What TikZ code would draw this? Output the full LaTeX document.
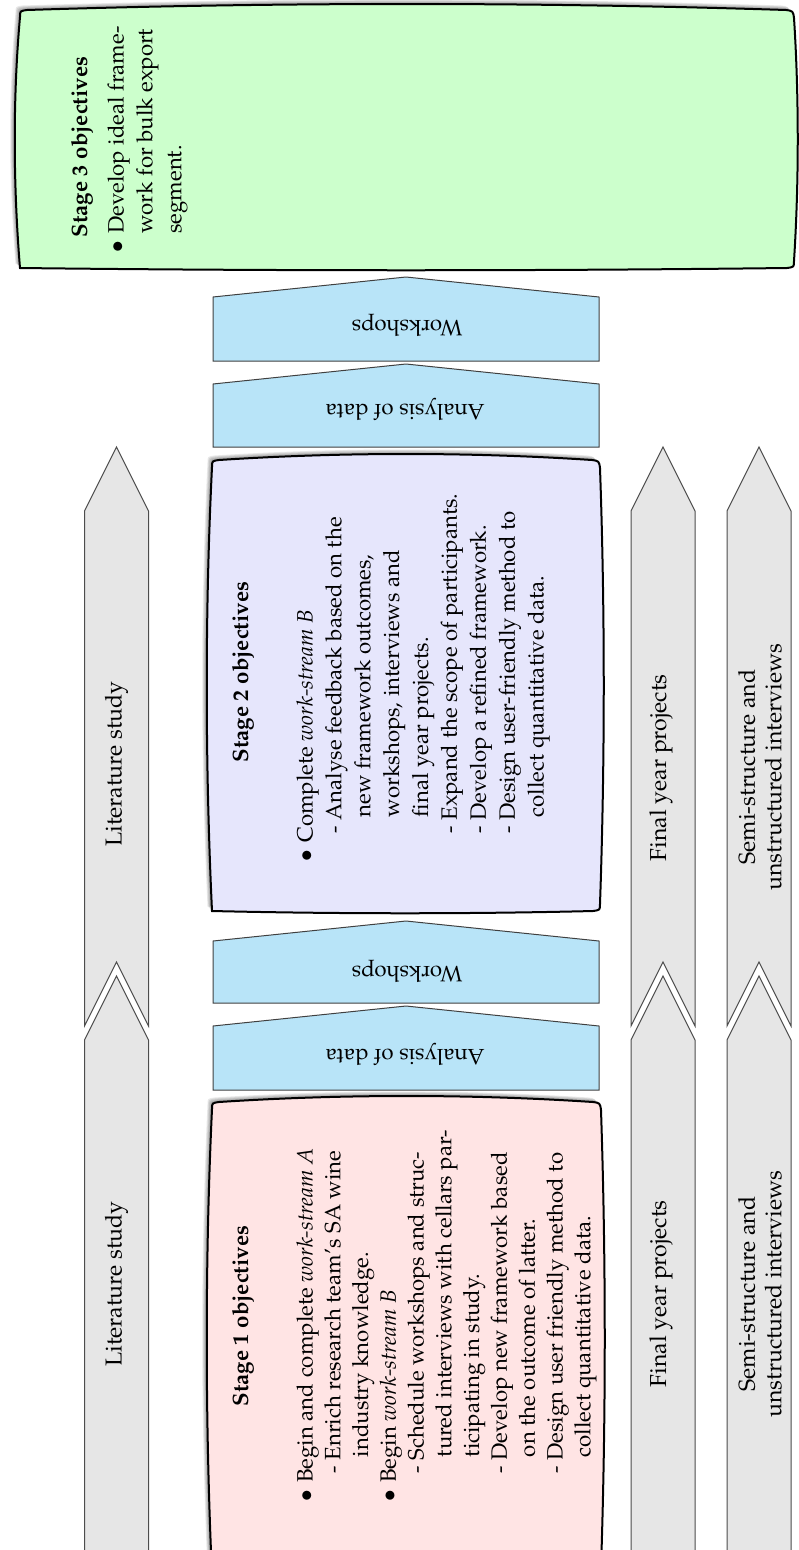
\documentclass[tikz,border=0pt]{standalone}
\usepackage[T1]{fontenc}
\usepackage{mathpazo}

\definecolor{stagegreen}{RGB}{204,255,204}
\definecolor{stagelav}{RGB}{230,230,252}
\definecolor{stagepink}{RGB}{255,228,228}
\definecolor{actblue}{RGB}{184,228,248}
\definecolor{trackgray}{RGB}{230,230,230}

% list lines: bullet line, dash line, continuation lines
\newcommand\bl[1]{\makebox[8.5pt][l]{$\bullet$}#1}
\newcommand\dl[1]{\hspace*{12.5pt}\makebox[6pt][l]{-}#1}
\newcommand\cl[1]{\hspace*{20pt}#1}
\newcommand\cb[1]{\hspace*{8.5pt}#1}

% soft-edged stage panel: x1, y1, x2, y2 (y grows downwards)
\newcommand\pillow[5][]{%
  \path[#1] ({#2},{#5})
   .. controls ({#2-7},{#5-(#5-#3)/3}) and ({#2-7},{#3+(#5-#3)/3}) .. ({#2},{#3+7})
   .. controls ({#2},{#3+1}) .. ({#2+7},{#3})
   .. controls ({#2+(#4-#2)/3},{#3-8}) and ({#4-(#4-#2)/3},{#3-8}) .. ({#4-8},{#3})
   .. controls ({#4-1},{#3+1}) .. ({#4},{#3+8})
   .. controls ({#4+5},{#3+(#5-#3)/3}) and ({#4+5},{#5-(#5-#3)/3}) .. ({#4},{#5-7})
   .. controls ({#4},{#5-1}) .. ({#4-7},{#5})
   .. controls ({#4-(#4-#2)/3},{#5+3}) and ({#2+(#4-#2)/3},{#5+3}) .. ({#2},{#5})
   -- cycle;}
\newcommand\stagepanel[5]{%
  \foreach \k in {1,...,5}{\pillow[fill=black,opacity=0.09,shift={({-0.9*\k},{-0.9*\k})}]{#2}{#3}{#4}{#5}}
  \pillow[fill=#1,draw=black,line width=0.9pt]{#2}{#3}{#4}{#5}}

\tikzset{
  track/.style={fill=trackgray,draw=black!70,line width=0.45pt,line join=miter},
  act/.style={fill=actblue,draw=black!75,line width=0.45pt,line join=miter},
  lbl/.style={rotate=90,inner sep=0pt,align=center,font=\fontsize{10.4}{12}\selectfont},
  actlbl/.style={rotate=180,inner sep=0pt,font=\fontsize{10}{12.6}\selectfont},
  stagetitle/.style={rotate=90,inner sep=0pt,font=\fontsize{10}{12.6}\selectfont\bfseries},
  stagelist/.style={rotate=90,inner sep=0pt,anchor=north west,align=left,
    font=\fontsize{10}{#1}\selectfont},
}

\begin{document}
\begin{tikzpicture}[x=0.45pt,y=-0.45pt]
\useasboundingbox (0,0) rectangle (799,1550);

% ---- stage panels ----
\stagepanel{stagegreen}{20}{10}{794}{268}
\stagepanel{stagelav}{212}{460}{600}{911}
\stagepanel{stagepink}{212}{1102}{601}{1575}

% ---- activity blocks ----
\path[act] (213,297) -- (406,277) -- (599,297) -- (599,361) -- (213,361) -- cycle;
\path[act] (213,384) -- (406,364) -- (599,384) -- (599,447) -- (213,447) -- cycle;
\path[act] (213,941) -- (406,921) -- (599,941) -- (599,1003) -- (213,1003) -- cycle;
\path[act] (213,1026) -- (406,1006) -- (599,1026) -- (599,1090) -- (213,1090) -- cycle;

% ---- side tracks ----
\foreach \L/\C/\R in {84.5/116.5/148.5, 631/663/695, 727/759/791}{
  \path[track] (\L,511) -- (\C,447) -- (\R,511) -- (\R,1026) -- (\C,962) -- (\L,1026) -- cycle;
  \path[track] (\L,1040) -- (\C,976) -- (\R,1040) -- (\R,1580) -- (\L,1580) -- cycle;
}

% ---- track labels ----
\node[lbl] (litA) at (116.5,764) {Literature study};
\node[lbl] (litB) at (116.5,1284) {Literature study};
\node[lbl] (fypA) at (661,768) {Final year projects};
\node[lbl] (fypB) at (661,1294) {Final year projects};
\node[lbl] (intA) at (760,767) {Semi-structure and\\unstructured interviews};
\node[lbl] (intB) at (760,1294) {Semi-structure and\\unstructured interviews};

% ---- activity labels ----
\node[actlbl] (wsA) at (407,325) {Workshops};
\node[actlbl] (adA) at (405,409) {Analysis of data};
\node[actlbl] (wsB) at (407,971) {Workshops};
\node[actlbl] (adB) at (405,1054) {Analysis of data};

% ---- stage 3 ----
\node[stagetitle] (s3t) at (82,147) {Stage 3 objectives};
\node[stagelist=13] (s3l) at (107,253) {%
  \bl{Develop ideal frame-}\\
  \cb{work for bulk export}\\
  \cb{segment.}};

% ---- stage 2 ----
\node[stagetitle] (s2t) at (243,672) {Stage 2 objectives};
\node[stagelist=13] (s2l) at (296,862) {%
  \bl{Complete \emph{work-stream B}}\\
  \dl{Analyse feedback based on the}\\
  \cl{new framework outcomes,}\\
  \cl{workshops, interviews and}\\
  \cl{final year projects.}\\
  \dl{Expand the scope of participants.}\\
  \dl{Develop a refined framework.}\\
  \dl{Design user-friendly method to}\\
  \cl{collect quantitative data.}};

% ---- stage 1 ----
\node[stagetitle] (s1t) at (243,1316) {Stage 1 objectives};
\node[stagelist=12.5] (s1l) at (296,1502) {%
  \bl{Begin and complete \emph{work-stream A}}\\
  \dl{Enrich research team's SA wine}\\
  \cl{industry knowledge.}\\
  \bl{Begin \emph{work-stream B}}\\
  \dl{Schedule workshops and struc-}\\
  \cl{tured interviews with cellars par-}\\
  \cl{ticipating in study.}\\
  \dl{Develop new framework based}\\
  \cl{on the outcome of latter.}\\
  \dl{Design user friendly method to}\\
  \cl{collect quantitative data.}};
\end{tikzpicture}
\end{document}
